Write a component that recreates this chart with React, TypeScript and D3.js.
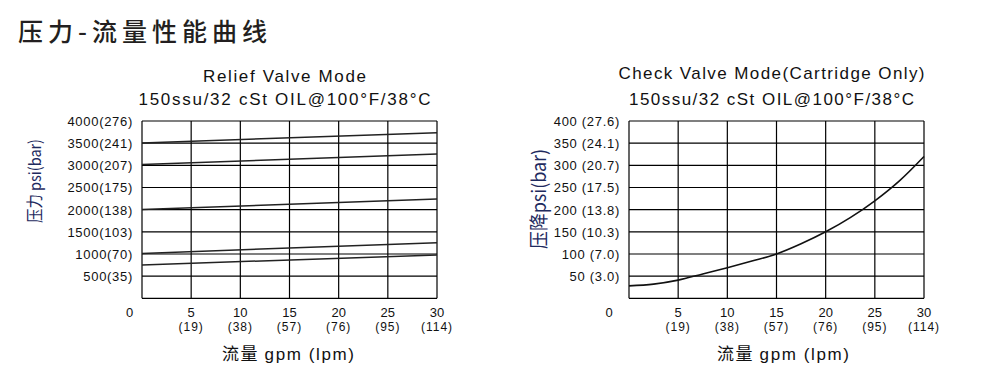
import React from 'react';
import * as d3 from 'd3';

const W = 996;
const H = 378;

const gpmTicks = [0, 5, 10, 15, 20, 25, 30];
const lpmLabels = ['', '(19)', '(38)', '(57)', '(76)', '(95)', '(114)'];

const reliefPsiTicks = [500, 1000, 1500, 2000, 2500, 3000, 3500, 4000];
const reliefBarLabels = ['35', '70', '103', '138', '175', '207', '241', '276'];

const checkPsiTicks = [50, 100, 150, 200, 250, 300, 350, 400];
const checkBarLabels = ['3.0', '7.0', '10.3', '13.8', '17.5', '20.7', '24.1', '27.6'];

// Relief valve mode: pressure at 0 gpm and 30 gpm for each setting
const reliefFlow = [0, 30];
const relief3500 = [3505, 3735];
const relief3000 = [3020, 3255];
const relief2000 = [2005, 2240];
const relief1000 = [1012, 1254];
const relief750 = [752, 978];
const reliefSeries = [relief3500, relief3000, relief2000, relief1000, relief750];

// Check valve mode pressure drop curve
const checkFlow = [0, 2.5, 5, 7.5, 10, 12.5, 15, 17.5, 20, 22.5, 25, 27.5, 30];
const checkPsi = [28, 32, 41, 55, 69, 84, 100, 123, 150, 182, 220, 265, 320];

const LATIN = '"Liberation Sans", Arial, "Noto Sans CJK SC", sans-serif';
const CJK = '"Noto Sans CJK SC", "Liberation Sans", sans-serif';

type PanelProps = {
  x0: number;
  x1: number;
  yMax: number;
  psiTicks: number[];
  barLabels: string[];
  sep: string;
  title: string;
  titleW: number;
  titleY: number;
  subW: number;
  yLabel: string;
  yLabelX: number;
  yLabelY: number;
  yLabelSize: number;
  yLabelW: number;
  zeroX: number;
  axisTitleX: number;
  children?: (xs: d3.ScaleLinear<number, number>, ys: d3.ScaleLinear<number, number>) => React.ReactNode;
};

function Panel(p: PanelProps) {
  const top = 121;
  const bottom = 298.3;
  const xs = d3.scaleLinear().domain([0, 30]).range([p.x0, p.x1]);
  const ys = d3.scaleLinear().domain([0, p.yMax]).range([bottom, top]);
  const cx = (p.x0 + p.x1) / 2 - 5;
  return (
    <g>
      <text x={cx} y={p.titleY} textAnchor="middle" fontFamily={LATIN} fontSize={17} fill="#111"
        textLength={p.titleW} lengthAdjust="spacing">{p.title}</text>
      <text x={cx} y={105} textAnchor="middle" fontFamily={LATIN} fontSize={17} fill="#111"
        textLength={p.subW} lengthAdjust="spacing">{'150ssu/32  cSt OIL@100°F/38°C'}</text>
      {[0, ...p.psiTicks].map((t) => (
        <line key={'h' + t} x1={p.x0} x2={p.x1} y1={ys(t)} y2={ys(t)} stroke="#000" strokeWidth={1.2} />
      ))}
      {gpmTicks.map((t) => (
        <line key={'v' + t} x1={xs(t)} x2={xs(t)} y1={top} y2={bottom} stroke="#000" strokeWidth={1.2} />
      ))}
      {p.children && p.children(xs, ys)}
      {p.psiTicks.map((t, i) => (
        <text key={'yl' + t} x={p.x0 - 9} y={ys(t) + 5} textAnchor="end" fontFamily={LATIN} fontSize={13}
          letterSpacing={0.7} fill="#111">{`${t}${p.sep}(${p.barLabels[i]})`}</text>
      ))}
      {gpmTicks.map((t, i) => (
        <g key={'xl' + t}>
          <text x={t === 0 ? p.zeroX : xs(t)} y={317} textAnchor="middle" fontFamily={LATIN} fontSize={13} fill="#111">{t}</text>
          {lpmLabels[i] && (
            <text x={xs(t)} y={331} textAnchor="middle" fontFamily={LATIN} fontSize={12} letterSpacing={1} fill="#111">{lpmLabels[i]}</text>
          )}
        </g>
      ))}
      <text x={p.axisTitleX} y={360} textAnchor="middle" fontSize={17} fill="#111" textLength={132} lengthAdjust="spacing">
        <tspan fontFamily={CJK}>流量 </tspan>
        <tspan fontFamily={LATIN}>gpm (lpm)</tspan>
      </text>
      <text transform={`translate(${p.yLabelX},${p.yLabelY}) rotate(-90)`} textAnchor="middle"
        fontSize={p.yLabelSize} fill="#1e2a5e" fontFamily={CJK} textLength={p.yLabelW} lengthAdjust="spacingAndGlyphs">{p.yLabel}</text>
    </g>
  );
}

export default function App() {
  const line = (xs: d3.ScaleLinear<number, number>, ys: d3.ScaleLinear<number, number>) =>
    d3.line<number>().x((_, i) => xs(reliefFlow[i])).y((d) => ys(d));
  return (
    <svg width={W} height={H} viewBox={`0 0 ${W} ${H}`} style={{ position: 'absolute', left: 0, top: 0, background: '#fff' }}>
      <rect x={0} y={0} width={W} height={H} fill="#fff" />
      <text x={18} y={41} fontFamily={CJK} fontSize={25} fontWeight={500} fill="#231f20"
        textLength={249} lengthAdjust="spacing">压力-流量性能曲线</text>
      <Panel x0={142} x1={437} yMax={4000} psiTicks={reliefPsiTicks} barLabels={reliefBarLabels} sep=""
        title="Relief  Valve Mode" titleW={163} titleY={82} subW={292}
        yLabel="压力 psi(bar)" yLabelX={41} yLabelY={181} yLabelSize={16.5} yLabelW={84} zeroX={129.5} axisTitleX={288}>
        {(xs, ys) =>
          reliefSeries.map((s, k) => (
            <path key={k} d={line(xs, ys)(s) || ''} fill="none" stroke="#222" strokeWidth={1.5} />
          ))
        }
      </Panel>
      <Panel x0={629} x1={924} yMax={400} psiTicks={checkPsiTicks} barLabels={checkBarLabels} sep=" "
        title="Check Valve Mode(Cartridge Only)" titleW={306} titleY={79} subW={285}
        yLabel="压降psi(bar)" yLabelX={546} yLabelY={199} yLabelSize={19} yLabelW={100} zeroX={609} axisTitleX={783}>
        {(xs, ys) => {
          const gen = d3.line<number>().x((_, i) => xs(checkFlow[i])).y((d) => ys(d)).curve(d3.curveCatmullRom.alpha(0.5));
          return <path d={gen(checkPsi) || ''} fill="none" stroke="#111" strokeWidth={1.6} />;
        }}
      </Panel>
    </svg>
  );
}
